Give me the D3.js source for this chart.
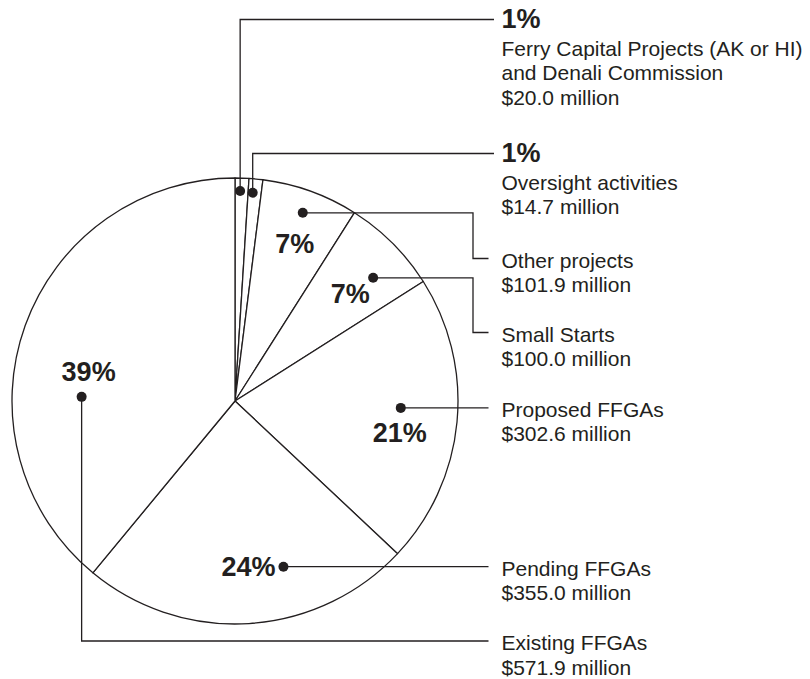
<!DOCTYPE html>
<html>
<head>
<meta charset="utf-8">
<script src="https://cdn.jsdelivr.net/npm/d3@7"></script>
<style>
  body { margin: 0; background: #fff; }
  svg { display: block; }
  text { font-family: "Liberation Sans", Arial, Helvetica, sans-serif; fill: #231f20; }
</style>
</head>
<body>
<div id="chart"></div>
<script>
// data
const categories = [
  "Ferry Capital Projects (AK or HI)|and Denali Commission",
  "Oversight activities",
  "Other projects",
  "Small Starts",
  "Proposed FFGAs",
  "Pending FFGAs",
  "Existing FFGAs"
]
const amounts = [20.0, 14.7, 101.9, 100.0, 302.6, 355.0, 571.9]   // $ million
const shares = [1, 1, 7, 7, 21, 24, 39]                             // percent

// label layout: where the dot sits in its slice, how the leader runs, where the % goes
const labelLayout = [
  { frac: 0.39, rr: 0.942, route: "up",       y: 19.5,  end: 494, pct: "side" },
  { frac: 0.35, rr: 0.937, route: "up",       y: 153.5, end: 494, pct: "side" },
  { frac: 0.50, rr: 0.897, route: "elbow",    y: 258.5, end: 488.5, pct: [-8, 40, "middle"] },
  { frac: 0.63, rr: 0.830, route: "elbow",    y: 332.5, end: 488.5, pct: [-23, 25, "middle"] },
  { frac: 0.46, rr: 0.744, route: "straight",           end: 488.5, pct: [-1, 34, "middle"] },
  { frac: 0.353, rr: 0.774, route: "straight",          end: 488.5, pct: [-8, 9.5, "end"] },
  { frac: 0.37, rr: 0.688, route: "down",     y: 641,   end: 488.5, pct: [7, -15.7, "middle"] }
]

const width = 810, height = 679
const cx = 235, cy = 401, radius = 223
const elbowX = 473, textX = 501.5, lineH = 24.5
const ink = "#231f20"

const rows = categories.map((c, i) => ({ label: c, amount: amounts[i], share: shares[i], lay: labelLayout[i] }))

const svg = d3.select("#chart").append("svg")
  .attr("width", width)
  .attr("height", height)

const pie = d3.pie().sort(null).value(d => d.share)
const arc = d3.arc().innerRadius(0).outerRadius(radius)
const arcs = pie(rows)

// slices
svg.append("g")
  .attr("transform", `translate(${cx},${cy})`)
  .selectAll("path")
  .data(arcs)
  .enter()
  .append("path")
    .attr("d", arc)
    .attr("fill", "#fff")
    .attr("stroke", ink)
    .attr("stroke-width", 1.3)
    .attr("stroke-linejoin", "round")

// dot position inside each slice
arcs.forEach(a => {
  const lay = a.data.lay
  const ang = a.startAngle + lay.frac * (a.endAngle - a.startAngle)
  const p = d3.pointRadial(ang, lay.rr * radius)
  a.dot = [cx + p[0], cy + p[1]]
  a.labelY = lay.route === "straight" ? a.dot[1] : lay.y
})

// leader lines
const leader = a => {
  const [x, y] = a.dot
  const lay = a.data.lay
  const path = d3.path()
  path.moveTo(x, y)
  if (lay.route === "up" || lay.route === "down") {
    path.lineTo(x, a.labelY)
    path.lineTo(lay.end, a.labelY)
  } else if (lay.route === "elbow") {
    path.lineTo(elbowX, y)
    path.lineTo(elbowX, a.labelY)
    path.lineTo(lay.end, a.labelY)
  } else {
    path.lineTo(lay.end, y)
  }
  return path.toString()
}

svg.append("g")
  .selectAll("path")
  .data(arcs)
  .enter()
  .append("path")
    .attr("d", leader)
    .attr("fill", "none")
    .attr("stroke", ink)
    .attr("stroke-width", 1.3)

svg.append("g")
  .selectAll("circle")
  .data(arcs)
  .enter()
  .append("circle")
    .attr("cx", a => a.dot[0])
    .attr("cy", a => a.dot[1])
    .attr("r", 5)
    .attr("fill", ink)

// percentages inside the pie
svg.append("g")
  .selectAll("text")
  .data(arcs.filter(a => a.data.lay.pct !== "side"))
  .enter()
  .append("text")
    .attr("x", a => a.dot[0] + a.data.lay.pct[0])
    .attr("y", a => a.dot[1] + a.data.lay.pct[1])
    .attr("text-anchor", a => a.data.lay.pct[2])
    .style("font-size", "27px")
    .style("font-weight", "bold")
    .text(a => a.data.share + "%")

// right-hand labels
arcs.forEach(a => {
  const d = a.data
  const g = svg.append("g")
  let y
  if (d.lay.pct === "side") {
    g.append("text")
      .attr("x", textX)
      .attr("y", a.labelY + 8)
      .style("font-size", "27px")
      .style("font-weight", "bold")
      .text(d.share + "%")
    y = a.labelY + 8 + 28
  } else {
    y = a.labelY + 9
  }
  const lines = d.label.split("|").concat(["$" + d.amount.toFixed(1) + " million"])
  lines.forEach((t, i) => {
    g.append("text")
      .attr("x", textX)
      .attr("y", y + i * lineH)
      .style("font-size", "21px")
      .text(t)
  })
})
</script>
</body>
</html>
